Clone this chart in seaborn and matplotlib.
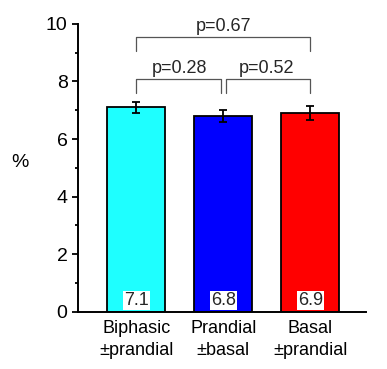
import numpy as np
import pandas as pd
import matplotlib
matplotlib.use('Agg')
import matplotlib.pyplot as plt
import seaborn as sns

groups = ['Biphasic\n\u00b1prandial', 'Prandial\n\u00b1basal', 'Basal\n\u00b1prandial']
values = [7.1, 6.8, 6.9]
errors = [0.2, 0.2, 0.25]
colors = ['#1EFFFF', '#0000FF', '#FF0000']
# (left bar, right bar, bracket height, p text)
comparisons = [(0, 1, 8.1, 'p=0.28'), (1, 2, 8.1, 'p=0.52'), (0, 2, 9.55, 'p=0.67')]

sns.set_style('ticks')
plt.rcParams['font.family'] = ['Liberation Sans', 'DejaVu Sans']

df = pd.DataFrame({'group': groups, 'value': values})

fig = plt.figure(figsize=(3.87, 3.69), dpi=100)
ax = fig.add_axes([0.2016, 0.1553, 0.744, 0.78])
sns.barplot(data=df, x='group', y='value', hue='group', palette=colors, legend=False,
            saturation=1, width=0.67, edgecolor='black', linewidth=1.3, errorbar=None, ax=ax)
ax.errorbar(range(len(values)), values, yerr=errors, fmt='none', ecolor='black',
            elinewidth=1.3, capsize=3, capthick=1.3, zorder=5)

for i, v in enumerate(values):
    ax.text(i, 0.4, f'{v:.1f}', ha='center', va='center', fontsize=13,
            bbox=dict(facecolor='white', edgecolor='none', pad=0.6))

for a, b, h, label in comparisons:
    drop = 0.5 if h < 9 else 0.48
    off = 0.03 if (b - a) == 1 else 0
    xa = a + (off if a == 1 else 0)
    xb = b - (off if b == 1 else 0)
    ax.plot([xa, xa, xb, xb], [h - drop, h, h, h - drop], color='#555555', lw=0.9, clip_on=False)
    ax.text((a + b) / 2, h + 0.05, label, ha='center', va='bottom', fontsize=13, clip_on=False)

ax.set_xlim(-0.67, 2.64)
ax.set_ylim(0, 10)
ax.set_yticks([0, 2, 4, 6, 8, 10])
ax.set_yticks([1, 3, 5, 7, 9], minor=True)
ax.tick_params(axis='y', which='major', direction='out', length=4, width=1.3,
               labelsize=14, color='black', labelcolor='black')
ax.tick_params(axis='y', which='minor', direction='out', length=2.5, width=1.3, color='black')
ax.tick_params(axis='x', length=0, labelsize=13, pad=6, labelcolor='black')
for lbl in ax.get_xticklabels():
    lbl.set_linespacing(1.35)
ax.set_xlabel('')
ax.set_ylabel('%', rotation=0, fontsize=14, va='center', ha='center', color='black')
ax.yaxis.set_label_coords(-0.2, 0.52)
sns.despine(ax=ax)
for s in ['left', 'bottom']:
    ax.spines[s].set_linewidth(1.4)
    ax.spines[s].set_color('black')

fig.savefig('out.png', dpi=100)
